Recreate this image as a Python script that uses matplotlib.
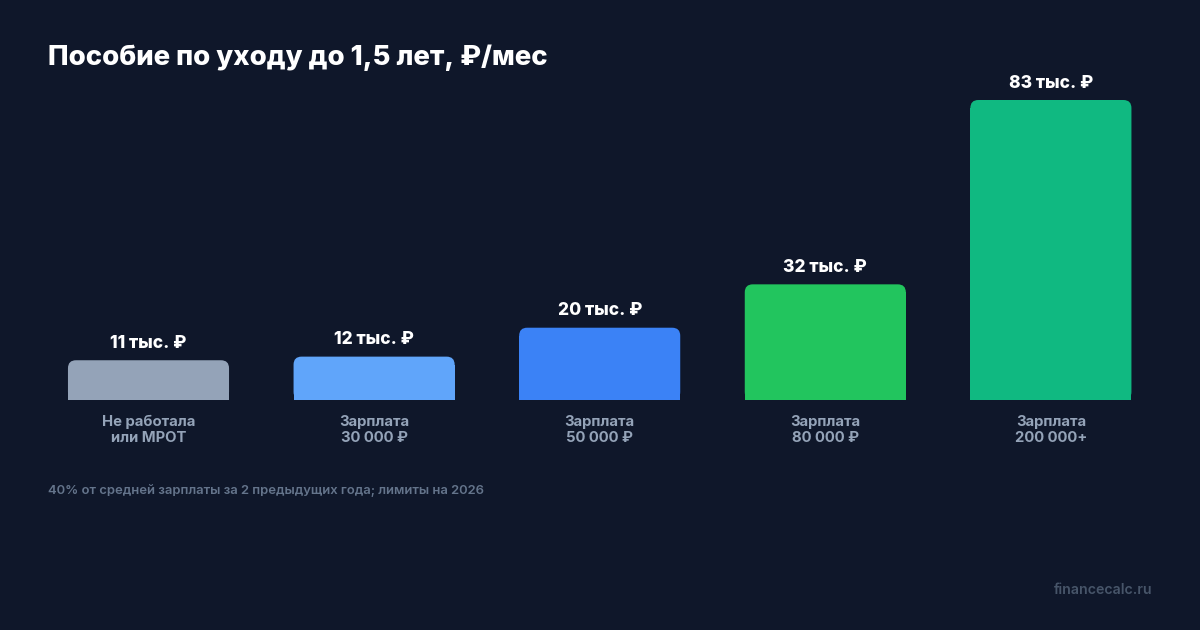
import matplotlib
matplotlib.use("Agg")
import matplotlib.pyplot as plt
from matplotlib.patches import FancyBboxPatch, Rectangle
from matplotlib.transforms import IdentityTransform

plt.rcParams['font.family'] = ['Inter', 'DejaVu Sans']

categories = ["Не работала\nили МРОТ", "Зарплата\n30 000 ₽", "Зарплата\n50 000 ₽",
              "Зарплата\n80 000 ₽", "Зарплата\n200 000+"]
values = [11, 12, 20, 32, 83]
value_labels = ["11 тыс. ₽", "12 тыс. ₽", "20 тыс. ₽", "32 тыс. ₽", "83 тыс. ₽"]
colors = ["#94a3b8", "#60a5fa", "#3b82f6", "#22c55e", "#10b981"]

title = "Пособие по уходу до 1,5 лет, ₽/мес"
footnote = "40% от средней зарплаты за 2 предыдущих года; лимиты на 2026"
watermark = "financecalc.ru"

BG = "#0f172a"
W, H = 1200, 630
fig = plt.figure(figsize=(W / 100, H / 100), dpi=100, facecolor=BG)
ax = fig.add_axes([35.7 / W, (H - 400) / H, 1128 / W, 300 / H])
ax.set_facecolor(BG)
ax.set_xlim(0, len(values))
ax.set_ylim(0, max(values))
ax.axis('off')

xs = [i + 0.5 for i in range(len(values))]
bars = ax.bar(xs, values, width=0.714, color=colors)

fig.canvas.draw()
r = 8
for bar, col, lab, cat in zip(bars, colors, value_labels, categories):
    x0, y0 = ax.transData.transform((bar.get_x(), 0))
    x1, y1 = ax.transData.transform((bar.get_x() + bar.get_width(), bar.get_height()))
    bar.set_visible(False)
    fig.patches.append(FancyBboxPatch((x0, y0), x1 - x0, y1 - y0,
                                      boxstyle=f"round,pad=0,rounding_size={r}",
                                      transform=IdentityTransform(), facecolor=col,
                                      edgecolor='none', figure=fig))
    fig.patches.append(Rectangle((x0, y0), x1 - x0, (y1 - y0) - r,
                                 transform=IdentityTransform(), facecolor=col,
                                 edgecolor='none', figure=fig))
    cx = bar.get_x() + bar.get_width() / 2
    ax.annotate(lab, (cx, bar.get_height()), xytext=(0, 6), textcoords='offset points',
                ha='center', va='bottom', color='white', fontsize=12.5, fontweight='heavy')
    ax.annotate(cat, (cx, 0), xytext=(0, -10.5), textcoords='offset points',
                ha='center', va='top', color='#94a3b8', fontsize=10.7, fontweight='bold',
                linespacing=1.2)

fig.text(48 / W, 1 - 58 / H, title, color='white', fontsize=19.8, fontweight='heavy',
         ha='left', va='center')
fig.text(48 / W, 1 - 491 / H, footnote, color='#64748b', fontsize=9.4, fontweight='semibold',
         ha='left', va='center')
fig.text(1152 / W, 1 - 590 / H, watermark, color='#475569', fontsize=10.2, fontweight='semibold',
         ha='right', va='center')

fig.savefig("out.png", dpi=100, facecolor=BG)
